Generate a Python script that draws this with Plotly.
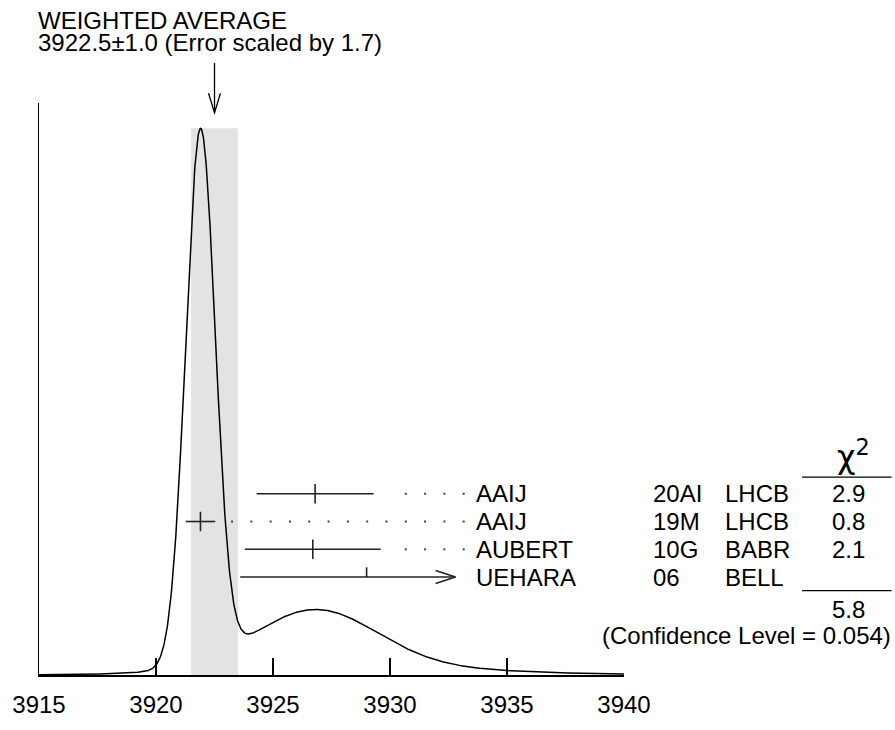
import numpy as np
import plotly.graph_objects as go

# ---------------- data ----------------
authors = ["AAIJ", "AAIJ", "AUBERT", "UEHARA"]
codes = ["20AI", "19M", "10G", "06"]
experiments = ["LHCB", "LHCB", "BABR", "BELL"]
values = [3926.8, 3921.9, 3926.7, 3929.0]
errors = [2.5, 0.63, 2.9, 5.4]
chi2_values = ["2.9", "0.8", "2.1", ""]
used_in_fit = [True, True, True, False]
avg_value = 3922.5
avg_error = 1.0
error_scale = 1.7
chi2_total = "5.8"
conf_level = "0.054"
x_ticks = [3915, 3920, 3925, 3930, 3935, 3940]
x_range = [3915, 3940]
arrow_end = 3932.8   # truncated right end of the UEHARA error bar

# ---------------- geometry helpers (layout only) ----------------
W, H = 895, 730
PLOT_L, PLOT_R, PLOT_T, PLOT_B = 36, 624, 103, 690   # target pixel box
L, T = PLOT_L, PLOT_T
R = W - PLOT_R
B = H - PLOT_B
PW = PLOT_R - PLOT_L
PH = PLOT_B - PLOT_T


def px_x(px):
    return (px - PLOT_L) / PW


def px_y(py):
    return (PLOT_B - py) / PH


ROW0_PX = 504.0     # pixel y of first row
ROW_STEP = 28.5     # pixels between rows
y2_bottom = (PLOT_B - ROW0_PX) / ROW_STEP
y2_top = -(ROW0_PX - PLOT_T) / ROW_STEP
units_per_px = (x_range[1] - x_range[0]) / PW
rows_per_px = 1 / ROW_STEP

# ---------------- ideogram curve ----------------
xs = np.linspace(x_range[0], x_range[1], 1501)
ys = np.zeros_like(xs)
for v, e in zip(values, errors):
    ys += (1.0 / e ** 2) * np.exp(-0.5 * ((xs - v) / e) ** 2)
peak = ys.max()
PEAK_PX = 129.0
y1_max = peak * PH / (PLOT_B - PEAK_PX)

fig = go.Figure()

fig.add_trace(go.Scatter(x=xs, y=ys, mode="lines",
                         line=dict(color="black", width=1.5),
                         hoverinfo="skip", showlegend=False))

# error bars
bx, by = [], []
for i, (v, e, used) in enumerate(zip(values, errors, used_in_fit)):
    if used:
        bx += [v - e, v + e, None]
    else:
        bx += [v - e, arrow_end, None]
    by += [i, i, None]
fig.add_trace(go.Scatter(x=bx, y=by, mode="lines", yaxis="y2",
                         line=dict(color="#222", width=1.6),
                         hoverinfo="skip", showlegend=False))

# central ticks
tick_half = 10 * rows_per_px
tx, ty = [], []
for i, (v, used) in enumerate(zip(values, used_in_fit)):
    tx += [v, v, None]
    if used:
        ty += [i - tick_half, i + tick_half, None]
    else:
        ty += [i - tick_half, i, None]
fig.add_trace(go.Scatter(x=tx, y=ty, mode="lines", yaxis="y2",
                         line=dict(color="#222", width=1.6),
                         hoverinfo="skip", showlegend=False))

# open arrow head on the truncated bar
ah_len = 20 * units_per_px
ah_half = 6.7 * rows_per_px
ax_, ay_ = [], []
for i, used in enumerate(used_in_fit):
    if not used:
        ax_ += [arrow_end - ah_len, arrow_end, arrow_end - ah_len, None]
        ay_ += [i - ah_half, i, i + ah_half, None]
fig.add_trace(go.Scatter(x=ax_, y=ay_, mode="lines", yaxis="y2",
                         line=dict(color="#222", width=1.6),
                         hoverinfo="skip", showlegend=False))

# dotted leaders
dot_end = 3933.15
dot_step = 0.825
gap = 0.6
dx, dy = [], []
for i, (v, e, used) in enumerate(zip(values, errors, used_in_fit)):
    if not used:
        continue
    k = int(np.floor((dot_end - (v + e + gap)) / dot_step))
    pts = dot_end - np.arange(k + 1) * dot_step
    dx += list(pts)
    dy += [i] * len(pts)
fig.add_trace(go.Scatter(x=dx, y=dy, mode="markers", yaxis="y2",
                         marker=dict(symbol="square", size=2, color="#444",
                                     line=dict(width=0)),
                         hoverinfo="skip", showlegend=False))

shapes = []
# weighted-average band
shapes.append(dict(type="rect", xref="x", yref="y",
                   x0=avg_value - avg_error, x1=avg_value + avg_error,
                   y0=0, y1=peak, fillcolor="#e3e3e3",
                   line=dict(width=0), layer="below"))
# arrow pointing to the average
shapes.append(dict(type="line", xref="x", yref="paper",
                   x0=avg_value, x1=avg_value, y0=px_y(62), y1=px_y(113),
                   line=dict(color="black", width=1.3)))
hx = 6 * units_per_px
shapes.append(dict(type="path", xref="x", yref="paper",
                   path=f"M {avg_value - hx},{px_y(93)} L {avg_value},{px_y(113)} L {avg_value + hx},{px_y(93)}",
                   line=dict(color="black", width=1.3)))
# chi2 column rules
for py in (487, 603.5):
    shapes.append(dict(type="line", xref="paper", yref="paper",
                       x0=px_x(803), x1=px_x(893), y0=px_y(py), y1=px_y(py),
                       line=dict(color="black", width=1.2)))

FONT = "Liberation Sans, Arial, Helvetica, sans-serif"
FS = 24
ann = []
ann.append(dict(text="WEIGHTED AVERAGE", x=px_x(33), y=px_y(18.5), xref="paper", yref="paper",
                xanchor="left", yanchor="middle", showarrow=False,
                font=dict(size=FS, color="black", family=FONT)))
ann.append(dict(text=f"{avg_value:.1f}\u00b1{avg_error:.1f} (Error scaled by {error_scale})",
                x=px_x(33), y=px_y(40.5), xref="paper", yref="paper",
                xanchor="left", yanchor="middle", showarrow=False,
                font=dict(size=FS, color="black", family=FONT)))
for i in range(len(authors)):
    for txt, px, anchor in ((authors[i], 473, "left"), (codes[i], 651, "left"),
                            (experiments[i], 724, "left"), (chi2_values[i], 850, "center")):
        if not txt:
            continue
        ann.append(dict(text=txt, x=px_x(px), y=i, xref="paper", yref="y2",
                        xanchor=anchor, yanchor="middle", showarrow=False,
                        font=dict(size=FS, color="black", family=FONT)))
ann.append(dict(text="\u03c7<sup>2</sup>", x=px_x(855), y=px_y(464), xref="paper", yref="paper",
                xanchor="center", yanchor="middle", showarrow=False,
                font=dict(size=32, color="black", family="DejaVu Sans, sans-serif")))
ann.append(dict(text=chi2_total, x=px_x(850), y=px_y(623), xref="paper", yref="paper",
                xanchor="center", yanchor="middle", showarrow=False,
                font=dict(size=FS, color="black", family=FONT)))
ann.append(dict(text=f"(Confidence Level = {conf_level})", x=px_x(893), y=px_y(649.5),
                xref="paper", yref="paper", xanchor="right", yanchor="middle", showarrow=False,
                borderpad=0,
                font=dict(size=FS, color="black", family=FONT)))

fig.update_layout(
    width=W, height=H,
    margin=dict(l=L, r=R, t=T, b=B, pad=0),
    paper_bgcolor="white", plot_bgcolor="white",
    showlegend=False,
    hovermode=False,
    font=dict(family=FONT, size=FS, color="black"),
    xaxis=dict(range=x_range, tickvals=x_ticks, ticktext=[str(t) for t in x_ticks],
               ticks="inside", ticklen=17, tickwidth=1.2, tickcolor="black",
               showline=True, linecolor="black", linewidth=1.5,
               showgrid=False, zeroline=False, ticklabelstandoff=8,
               tickfont=dict(size=FS, color="black", family=FONT)),
    yaxis=dict(range=[0, y1_max], showline=True, linecolor="black", linewidth=1.5,
               showticklabels=False, ticks="", showgrid=False, zeroline=False),
    yaxis2=dict(range=[y2_bottom, y2_top], overlaying="y", visible=False),
    shapes=shapes,
    annotations=ann,
)

fig.write_html("out.html",
               config={"displayModeBar": False, "staticPlot": True},
               post_script="document.body.style.margin='0';document.body.style.overflow='hidden';")
